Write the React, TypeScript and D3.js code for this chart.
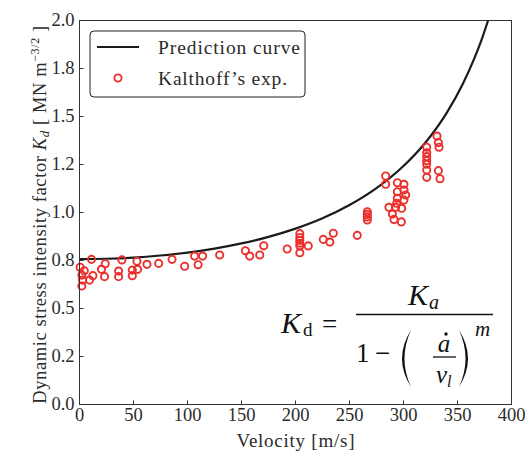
import * as d3 from 'd3';

const EXP_V = [
  0.6, 4.4, 2.2, 2.8, 2.2, 9.3, 12.4, 11.1, 20.4, 23.8, 23.2, 36.2, 36.2, 39.3, 48.9, 48.9,
  53.2, 53.8, 62.5, 73.3, 85.7, 97.4, 106.6, 109.8, 114, 129.8, 153.6, 157.6, 166.9, 170.6,
  192.3, 204, 204, 204, 204, 204, 204, 211.8, 225.7, 231.8, 235, 257.2, 266.5, 266.5, 266.5,
  266.5, 283.5, 283.5, 294.3, 300.4, 294.3, 300.4, 302, 294.3, 300.4, 293.7, 286.5, 292.7,
  298.3, 289.7, 291.2, 298, 321.5, 321.5, 321.5, 321.5, 321.5, 321.5, 321.5, 331, 332.3,
  332.9, 332.3, 333.8,
];
const EXP_K = [
  0.715, 0.697, 0.674, 0.648, 0.617, 0.648, 0.671, 0.756, 0.704, 0.733, 0.666, 0.695, 0.666,
  0.753, 0.7, 0.671, 0.746, 0.704, 0.73, 0.735, 0.756, 0.72, 0.773, 0.728, 0.773, 0.779,
  0.801, 0.773, 0.779, 0.827, 0.81, 0.89, 0.87, 0.855, 0.84, 0.825, 0.79, 0.826, 0.86, 0.846,
  0.892, 0.881, 1.004, 0.99, 0.977, 0.961, 1.19, 1.147, 1.155, 1.147, 1.108, 1.117, 1.091,
  1.074, 1.065, 1.048, 1.027, 1.027, 1.022, 0.992, 0.964, 0.951, 1.34, 1.311, 1.291, 1.27,
  1.251, 1.221, 1.183, 1.398, 1.364, 1.34, 1.218, 1.176,
];

// prediction curve
const CURVE_V = [0, 25, 50, 75, 100, 125, 150, 175, 200, 225, 250, 275, 300, 320, 340, 355, 365, 372, 378.3];
const CURVE_K = [0.757, 0.759, 0.765, 0.776, 0.791, 0.812, 0.839, 0.873, 0.916, 0.97, 1.039, 1.127, 1.242, 1.362, 1.519, 1.671, 1.795, 1.895, 2.0];

const X_TICKS = [0, 50, 100, 150, 200, 250, 300, 350, 400];
const Y_TICKS = [0, 0.25, 0.5, 0.75, 1, 1.25, 1.5, 1.75, 2];
const Y_TICK_LABELS = ['0.0', '0.2', '0.5', '0.8', '1.0', '1.2', '1.5', '1.8', '2.0'];

const W = 532;
const H = 456;
const FONT = '"Liberation Serif", serif';
const RED = '#ea2f2c';
const INK = '#2b2b2b';

// bracket that is thick in the middle; bulge < 0 gives "(", > 0 gives ")"
function paren(xEnd: number, bulge: number, y0: number, y1: number) {
  const ym = (y0 + y1) / 2;
  return `M${xEnd},${y0} Q${xEnd + bulge * 2},${ym} ${xEnd},${y1} Q${xEnd + bulge * 1.45},${ym} ${xEnd},${y0}Z`;
}

export default function App() {
  const x = d3.scaleLinear().domain([0, 400]).range([79.5, 511.5]);
  const y = d3.scaleLinear().domain([0, 2]).range([404.5, 20.5]);

  const line = d3.line<number>()
    .x(i => x(CURVE_V[i]))
    .y(i => y(CURVE_K[i]))
    .curve(d3.curveMonotoneX);
  const curvePath = line(d3.range(CURVE_V.length)) || '';

  const left = x.range()[0];
  const right = x.range()[1];
  const top = y.range()[1];
  const bottom = y.range()[0];

  return (
    <svg width={W} height={H} style={{ position: 'absolute', left: 0, top: 0, background: '#fff' }} fontFamily={FONT}>
      <defs>
        <clipPath id="plot">
          <rect x={left} y={top} width={right - left} height={bottom - top} />
        </clipPath>
      </defs>

      {/* data */}
      <g clipPath="url(#plot)">
        <path d={curvePath} fill="none" stroke="#1b1b1b" strokeWidth={2.2} />
      </g>
      {EXP_V.map((v, i) => (
        <circle key={i} cx={x(v)} cy={y(EXP_K[i])} r={3.6} fill="none" stroke={RED} strokeWidth={1.9} />
      ))}

      {/* frame */}
      <rect x={left} y={top} width={right - left} height={bottom - top} fill="none" stroke="#333" strokeWidth={1} />

      {/* x axis */}
      {X_TICKS.map(t => (
        <g key={t}>
          <line x1={x(t)} x2={x(t)} y1={bottom} y2={bottom - 4} stroke="#333" />
          <text x={x(t)} y={421} textAnchor="middle" fontSize={18.5} fill={INK}>{t}</text>
        </g>
      ))}
      <text x={(left + right) / 2} y={447} textAnchor="middle" fontSize={19} fill={INK} textLength={118} lengthAdjust="spacing">Velocity [m/s]</text>

      {/* y axis */}
      {Y_TICKS.map((t, i) => (
        <g key={t}>
          <line x1={left} x2={left + 4} y1={y(t)} y2={y(t)} stroke="#333" />
          <text x={left - 5} y={y(t) + 5.5} textAnchor="end" fontSize={18.5} fill={INK}>{Y_TICK_LABELS[i]}</text>
        </g>
      ))}
      <text transform={`translate(46,${(top + bottom) / 2 + 2}) rotate(-90)`} textAnchor="middle" fontSize={18.5} letterSpacing={0.6} fill={INK}>
        Dynamic stress intensity factor <tspan fontStyle="italic">K</tspan>
        <tspan fontStyle="italic" fontSize={13} dy={3}>d</tspan>
        <tspan dy={-3}> [ MN m</tspan>
        <tspan fontSize={12} dy={-7}>−3/2</tspan>
        <tspan dy={7}> ]</tspan>
      </text>

      {/* legend */}
      <rect x={90} y={31} width={215} height={66} rx={4} fill="#fff" stroke="#222" strokeWidth={1} />
      <line x1={97} x2={139} y1={47} y2={47} stroke="#1b1b1b" strokeWidth={2.2} />
      <text x={158} y={54} fontSize={19.5} fill={INK} textLength={142} lengthAdjust="spacing">Prediction curve</text>
      <circle cx={118} cy={78} r={3.6} fill="none" stroke={RED} strokeWidth={1.9} />
      <text x={158} y={85} fontSize={19.5} fill={INK} textLength={129} lengthAdjust="spacing">Kalthoff’s exp.</text>

      {/* formula */}
      <g fill="#111">
        <text x={281} y={333} fontSize={30} fontStyle="italic">K</text>
        <text x={303} y={336} fontSize={19}>d</text>
        <text x={322} y={333} fontSize={27}>=</text>
        <line x1={356} x2={493} y1={314.5} y2={314.5} stroke="#111" strokeWidth={1.5} />
        <text x={408} y={305} fontSize={30} fontStyle="italic">K</text>
        <text x={429} y={309} fontSize={20} fontStyle="italic">a</text>
        <text x={356} y={362} fontSize={27}>1</text>
        <text x={375} y={362} fontSize={27}>−</text>
        <path d={paren(411, -9, 330, 387)} />
        <text x={444} y={352} fontSize={25} fontStyle="italic" textAnchor="middle">a</text>
        <circle cx={446} cy={334} r={1.7} />
        <line x1={433} x2={456} y1={357} y2={357} stroke="#111" strokeWidth={1.3} />
        <text x={436} y={383} fontSize={25} fontStyle="italic">v</text>
        <text x={447} y={387} fontSize={16} fontStyle="italic">l</text>
        <path d={paren(459, 9, 330, 387)} />
        <text x={475} y={336} fontSize={21} fontStyle="italic">m</text>
      </g>
    </svg>
  );
}
